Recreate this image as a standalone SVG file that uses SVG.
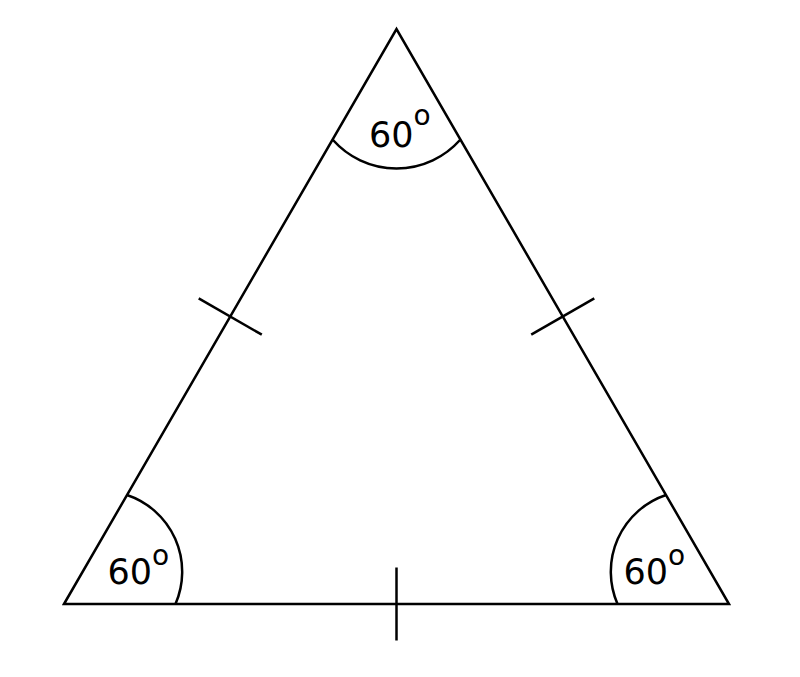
<svg xmlns="http://www.w3.org/2000/svg" width="800" height="677" viewBox="0 0 800 677">
<style>
.ln{fill:none;stroke:#000;stroke-width:2.5;stroke-linecap:butt;stroke-linejoin:miter}
.lb{font-family:"DejaVu Sans",sans-serif;font-size:35px;fill:#000}
.sup{font-size:28px}
</style>
<rect width="800" height="677" fill="#fff"/>
<g id="triangle">
<path class="ln" d="M64,604 L396.5,29 L729,604 Z"/>
</g>
<g id="angle-arcs">
<path class="ln" d="M333,140 A85,85 0 0 0 460,140"/>
<path class="ln" d="M127,495 A81,81 0 0 1 175.5,604"/>
<path class="ln" d="M666,495 A81,81 0 0 0 617.5,604"/>
</g>
<g id="ticks">
<line class="ln" x1="198.7" y1="298.3" x2="261.8" y2="334.7"/>
<line class="ln" x1="531.2" y1="334.7" x2="594.3" y2="298.3"/>
<line class="ln" x1="396.5" y1="567.5" x2="396.5" y2="640.5"/>
</g>
<g id="labels">
<text class="lb" x="369" y="146.5">60<tspan class="sup" x="413.5" y="125">o</tspan></text>
<text class="lb" x="107.5" y="584">60<tspan class="sup" x="152" y="565">o</tspan></text>
<text class="lb" x="623.5" y="584">60<tspan class="sup" x="668" y="565">o</tspan></text>
</g>
</svg>
